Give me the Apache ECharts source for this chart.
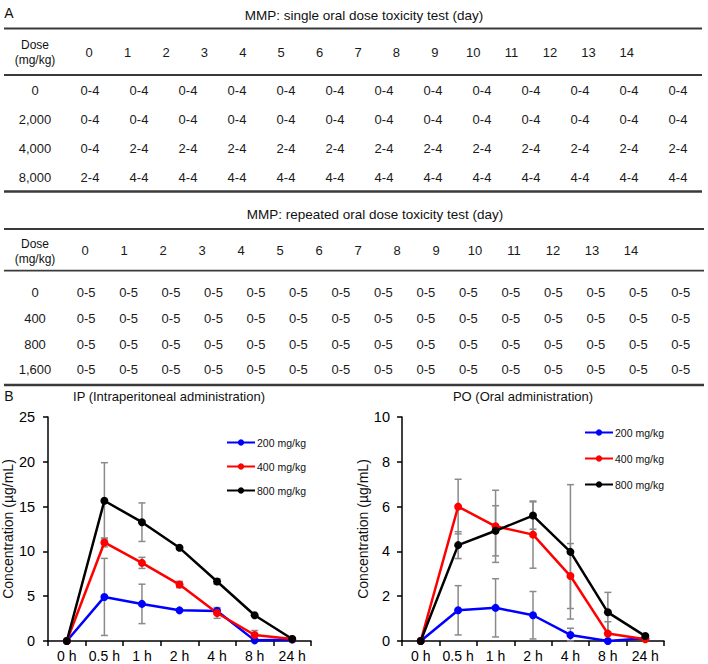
<!DOCTYPE html>
<html>
<head>
<meta charset="utf-8">
<title>MMP toxicity and concentration</title>
<script src="https://cdn.jsdelivr.net/npm/echarts@6.0.0/dist/echarts.min.js"></script>
<style>
    html, body { margin: 0; padding: 0; background: #fff; }
    #main { width: 708px; height: 664px; }
</style>
</head>
<body>
<div id="main"></div>
<script>
// ---- table A: single oral dose ----
const singleDays = ['0', '1', '2', '3', '4', '5', '6', '7', '8', '9', '10', '11', '12', '13', '14']
const singleDoses = ['0', '2,000', '4,000', '8,000']
const single0 = ['0-4', '0-4', '0-4', '0-4', '0-4', '0-4', '0-4', '0-4', '0-4', '0-4', '0-4', '0-4', '0-4']
const single2000 = ['0-4', '0-4', '0-4', '0-4', '0-4', '0-4', '0-4', '0-4', '0-4', '0-4', '0-4', '0-4', '0-4']
const single4000 = ['0-4', '2-4', '2-4', '2-4', '2-4', '2-4', '2-4', '2-4', '2-4', '2-4', '2-4', '2-4', '2-4']
const single8000 = ['2-4', '4-4', '4-4', '4-4', '4-4', '4-4', '4-4', '4-4', '4-4', '4-4', '4-4', '4-4', '4-4']

// ---- table A: repeated oral dose ----
const repeatDays = ['0', '1', '2', '3', '4', '5', '6', '7', '8', '9', '10', '11', '12', '13', '14']
const repeatDoses = ['0', '400', '800', '1,600']
const repeat0 = ['0-5', '0-5', '0-5', '0-5', '0-5', '0-5', '0-5', '0-5', '0-5', '0-5', '0-5', '0-5', '0-5', '0-5', '0-5']
const repeat400 = ['0-5', '0-5', '0-5', '0-5', '0-5', '0-5', '0-5', '0-5', '0-5', '0-5', '0-5', '0-5', '0-5', '0-5', '0-5']
const repeat800 = ['0-5', '0-5', '0-5', '0-5', '0-5', '0-5', '0-5', '0-5', '0-5', '0-5', '0-5', '0-5', '0-5', '0-5', '0-5']
const repeat1600 = ['0-5', '0-5', '0-5', '0-5', '0-5', '0-5', '0-5', '0-5', '0-5', '0-5', '0-5', '0-5', '0-5', '0-5', '0-5']

// ---- B: concentration curves ----
const times = ['0 h', '0.5 h', '1 h', '2 h', '4 h', '8 h', '24 h']
const ip200 = [0, 4.92, 4.14, 3.42, 3.36, 0.07, 0.15]
const ip200Err = [0, 4.3, 2.2, 0.15, 0.3, 0, 0]
const ip400 = [0, 11.0, 8.72, 6.3, 3.13, 0.67, 0.22]
const ip400Err = [0, 0.5, 0.62, 0.35, 0.6, 0.5, 0]
const ip800 = [0, 15.65, 13.26, 10.4, 6.64, 2.87, 0.22]
const ip800Err = [0, 4.25, 2.15, 0.15, 0.3, 0.1, 0.05]

const po200 = [0, 1.37, 1.48, 1.15, 0.27, 0, 0.12]
const po200Err = [0, 1.1, 1.3, 1.06, 0.3, 0, 0]
const po400 = [0, 6.0, 5.12, 4.75, 2.9, 0.33, 0.08]
const po400Err = [0, 1.22, 1.61, 1.5, 1.45, 0.53, 0]
const po800 = [0, 4.28, 4.92, 5.6, 3.98, 1.28, 0.22]
const po800Err = [0, 0.6, 1.12, 0.61, 3.0, 0.89, 0.05]

const doseNames = ['200 mg/kg', '400 mg/kg', '800 mg/kg']
const doseColors = ['#0000ff', '#ff0000', '#000000']

const FONT = '"Liberation Sans", Arial, Helvetica, sans-serif'
const NARROW = '"Liberation Sans Narrow", "Arial Narrow", "Liberation Sans", Arial, sans-serif'

const chart = echarts.init(document.getElementById('main'), null, { renderer: 'svg' })

// table cell -> [col, row, text]
function cells(rows) {
    const out = []
    rows.forEach((row, r) => {
        row.forEach((v, c) => out.push([c, r, v]))
    })
    return out
}

// error bar -> [x, low, high]
function errData(mean, err) {
    return mean.map((m, i) => [i, Math.max(0, m - err[i]), m + err[i]])
}

function renderErr(params, api) {
    const x = api.value(0)
    const lo = api.coord([x, api.value(1)])
    const hi = api.coord([x, api.value(2)])
    if (Math.abs(lo[1] - hi[1]) < 1) return null
    const w = 3.5
    const style = { stroke: '#8a8a8a', lineWidth: 1.5 }
    return {
        type: 'group',
        children: [
            { type: 'line', shape: { x1: lo[0], y1: lo[1], x2: hi[0], y2: hi[1] }, style },
            { type: 'line', shape: { x1: hi[0] - w, y1: hi[1], x2: hi[0] + w, y2: hi[1] }, style },
            { type: 'line', shape: { x1: lo[0] - w, y1: lo[1], x2: lo[0] + w, y2: lo[1] }, style }
        ]
    }
}

function lineSeries(name, data, color, idx) {
    return {
        name: name,
        type: 'line',
        xAxisIndex: idx,
        yAxisIndex: idx,
        data: data,
        symbol: 'circle',
        symbolSize: 8,
        color: color,
        lineStyle: { width: 2.5, color: color },
        itemStyle: { color: color },
        z: 3,
        animation: false
    }
}

function errSeries(mean, err, idx) {
    return {
        type: 'custom',
        xAxisIndex: idx,
        yAxisIndex: idx,
        data: errData(mean, err),
        encode: { x: 0, y: [1, 2] },
        renderItem: renderErr,
        silent: true,
        z: 2,
        animation: false
    }
}

// table body: one text per cell, placed by the category axes
function cellSeries(rows, idx) {
    return {
        type: 'custom',
        xAxisIndex: idx,
        yAxisIndex: idx,
        data: cells(rows),
        renderItem: (params, api) => {
            const pt = api.coord([api.value(0), api.value(1)])
            return {
                type: 'text',
                x: pt[0],
                y: pt[1],
                style: {
                    text: rows[api.value(1)][api.value(0)],
                    fill: '#1a1a1a',
                    fontSize: 13,
                    fontFamily: NARROW,
                    align: 'center',
                    verticalAlign: 'middle'
                }
            }
        },
        silent: true,
        animation: false
    }
}

const hidden = { show: false }
const headerLabel = { color: '#1a1a1a', fontSize: 13, fontFamily: NARROW, margin: 1 }

// chart axes share the same look
function valueAxis(idx, max, interval, margin) {
    return {
        gridIndex: idx,
        type: 'value',
        min: 0,
        max: max,
        interval: interval,
        name: 'Concentration (µg/mL)',
        nameLocation: 'middle',
        nameRotate: 90,
        nameGap: 26,
        nameTextStyle: { fontSize: 14, color: '#111', fontFamily: FONT },
        axisLine: { show: true, lineStyle: { color: '#000', width: 1.5 } },
        axisTick: { show: true, length: 5, lineStyle: { color: '#000', width: 1.5 } },
        axisLabel: { fontSize: 14.5, color: '#000', margin: margin, fontFamily: FONT },
        splitLine: { show: false }
    }
}

function timeAxis(idx) {
    return {
        gridIndex: idx,
        type: 'category',
        data: times,
        boundaryGap: true,
        axisLine: { lineStyle: { color: '#000', width: 1.5 } },
        axisTick: { show: true, length: 5, lineStyle: { color: '#000', width: 1.5 } },
        axisLabel: { fontSize: 14, color: '#000', margin: 8, interval: 0, fontFamily: FONT }
    }
}

const rule = (x1, x2, y, w) => ({
    type: 'line',
    shape: { x1: x1, y1: y, x2: x2, y2: y },
    style: { stroke: '#3a3a3a', lineWidth: w },
    silent: true
})

const txt = (text, x, y, size, align, family) => ({
    type: 'text',
    x: x,
    y: y,
    style: {
        text: text,
        fontSize: size,
        fontFamily: family || FONT,
        fill: '#111',
        align: align || 'center',
        verticalAlign: 'middle'
    },
    silent: true
})

const option = {
    animation: false,
    backgroundColor: '#fff',
    textStyle: { fontFamily: FONT },
    grid: [
        { left: 70, top: 44, width: 576, height: 1 },           // single header
        { left: 65.5, top: 75.4, width: 637, height: 116.8 },   // single body
        { left: 65.5, top: 242, width: 585, height: 1 },        // repeat header
        { left: 64.8, top: 279.3, width: 637.2, height: 103.6 },// repeat body
        { left: 47, top: 417, width: 264, height: 224 },        // IP
        { left: 402, top: 417, width: 262, height: 224 }        // PO
    ],
    xAxis: [
        { gridIndex: 0, type: 'category', data: singleDays, axisLine: hidden, axisTick: hidden, axisLabel: headerLabel },
        { gridIndex: 1, type: 'category', data: single0.map((_, i) => i), show: false },
        { gridIndex: 2, type: 'category', data: repeatDays, axisLine: hidden, axisTick: hidden, axisLabel: headerLabel },
        { gridIndex: 3, type: 'category', data: repeat0.map((_, i) => i), show: false },
        timeAxis(4),
        timeAxis(5)
    ],
    yAxis: [
        { gridIndex: 0, type: 'value', show: false },
        {
            gridIndex: 1, type: 'category', data: singleDoses, inverse: true,
            axisLine: hidden, axisTick: hidden,
            axisLabel: { align: 'center', margin: 30.5, color: '#1a1a1a', fontSize: 13, fontFamily: NARROW }
        },
        { gridIndex: 2, type: 'value', show: false },
        {
            gridIndex: 3, type: 'category', data: repeatDoses, inverse: true,
            axisLine: hidden, axisTick: hidden,
            axisLabel: { align: 'center', margin: 29.8, color: '#1a1a1a', fontSize: 13, fontFamily: NARROW }
        },
        valueAxis(4, 25, 5, 13),
        valueAxis(5, 10, 2, 12)
    ],
    legend: [
        {
            left: 226, top: 437, orient: 'vertical',
            data: doseNames, itemWidth: 28, itemHeight: 8, itemGap: 13,
            padding: 0, selectedMode: false,
            textStyle: { fontSize: 10.5, color: '#111', padding: [0, 0, 0, -3] }
        },
        {
            left: 584, top: 427, orient: 'vertical',
            data: doseNames, itemWidth: 28, itemHeight: 8, itemGap: 15,
            padding: 0, selectedMode: false,
            textStyle: { fontSize: 10.5, color: '#111', padding: [0, 0, 0, -3] }
        }
    ],
    graphic: [
        txt('A', 9, 13, 14, 'center'),
        txt('MMP: single oral dose toxicity test (day)', 364, 15, 13.5),
        rule(4, 702, 28.5, 2),
        txt('Dose', 35, 45, 12),
        txt('(mg/kg)', 35, 60, 12),
        rule(4, 702, 75, 1.8),
        rule(4, 702, 191.5, 2.5),

        txt('MMP: repeated oral dose toxicity test (day)', 375, 214.5, 13.5),
        rule(4, 704, 229, 2),
        txt('Dose', 35, 243.5, 12),
        txt('(mg/kg)', 35, 258.5, 12),
        rule(4, 704, 270.7, 1.8),
        rule(4, 704, 385, 2.5),

        txt('B', 9, 396, 14, 'center'),
        txt('IP (Intraperitoneal administration)', 169, 396, 13),
        txt('PO (Oral administration)', 523, 396, 13)
    ],
    series: [
        cellSeries([single0, single2000, single4000, single8000], 1),
        cellSeries([repeat0, repeat400, repeat800, repeat1600], 3),

        errSeries(ip200, ip200Err, 4),
        errSeries(ip400, ip400Err, 4),
        errSeries(ip800, ip800Err, 4),
        lineSeries(doseNames[0], ip200, doseColors[0], 4),
        lineSeries(doseNames[1], ip400, doseColors[1], 4),
        lineSeries(doseNames[2], ip800, doseColors[2], 4),

        errSeries(po200, po200Err, 5),
        errSeries(po400, po400Err, 5),
        errSeries(po800, po800Err, 5),
        lineSeries(doseNames[0], po200, doseColors[0], 5),
        lineSeries(doseNames[1], po400, doseColors[1], 5),
        lineSeries(doseNames[2], po800, doseColors[2], 5)
    ]
}

chart.setOption(option)
</script>
</body>
</html>
